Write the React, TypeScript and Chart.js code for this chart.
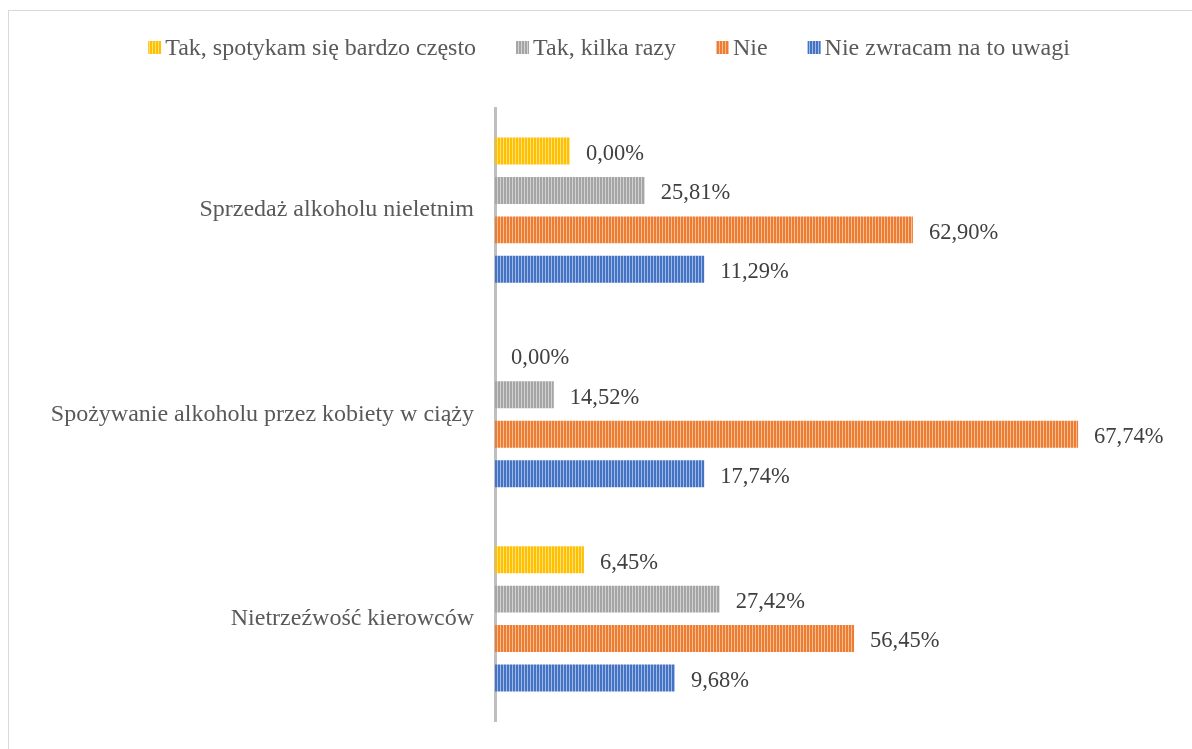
import React, { useEffect, useRef } from "react";
import { Chart, registerables } from "chart.js";

Chart.register(...registerables);

const categories = [
  "Sprzedaż alkoholu nieletnim",
  "Spożywanie alkoholu przez kobiety w ciąży",
  "Nietrzeźwość kierowców",
];
const seriesNames = [
  "Tak, spotykam się bardzo często",
  "Tak, kilka razy",
  "Nie",
  "Nie zwracam na to uwagi",
];
const seriesColors = ["#FFC000", "#A5A5A5", "#ED7D31", "#4472C4"];

// bar lengths as drawn in the picture (scale 0..100)
const barYellow = [10.7, 0, 12.7];
const barGray = [21.4, 8.4, 32.1];
const barOrange = [59.7, 83.3, 51.3];
const barBlue = [29.9, 29.9, 25.7];

// value labels as printed
const labelYellow = ["0,00%", "0,00%", "6,45%"];
const labelGray = ["25,81%", "14,52%", "27,42%"];
const labelOrange = ["62,90%", "67,74%", "56,45%"];
const labelBlue = ["11,29%", "17,74%", "9,68%"];

const xMin = 0;
const xMax = 100;

const FONT = '"Liberation Serif", "Times New Roman", serif';

function makePattern(color: string): CanvasPattern | string {
  const c = document.createElement("canvas");
  c.width = 3;
  c.height = 4;
  const g = c.getContext("2d");
  if (!g) return color;
  g.fillStyle = color;
  g.fillRect(0, 0, 3, 4);
  g.fillStyle = "rgba(255,255,255,0.5)";
  g.fillRect(2, 0, 1, 4);
  return g.createPattern(c, "repeat") || color;
}

export default function App() {
  const ref = useRef<HTMLCanvasElement | null>(null);

  useEffect(() => {
    if (!ref.current) return;
    const patterns = seriesColors.map(makePattern);
    const bars = [barYellow, barGray, barOrange, barBlue];
    const labels = [labelYellow, labelGray, labelOrange, labelBlue];

    const dataLabelPlugin = {
      id: "valueLabels",
      afterDatasetsDraw(chart: any) {
        const ctx = chart.ctx;
        ctx.save();
        ctx.font = `22.5px ${FONT}`;
        ctx.fillStyle = "#404040";
        ctx.textAlign = "left";
        ctx.textBaseline = "middle";
        chart.data.datasets.forEach((ds: any, di: number) => {
          const meta = chart.getDatasetMeta(di);
          meta.data.forEach((el: any, i: number) => {
            ctx.fillText(labels[di][i], el.x + 16, el.y + 3);
          });
        });
        ctx.restore();
      },
    };

    const legendPlugin = {
      id: "customLegend",
      afterDraw(chart: any) {
        const ctx = chart.ctx;
        ctx.save();
        ctx.font = `24px ${FONT}`;
        const box = 13;
        const gapBoxText = 4;
        const gapItems = 40;
        const widths = seriesNames.map((n) => ctx.measureText(n).width);
        const total =
          widths.reduce((a, w) => a + box + gapBoxText + w, 0) +
          gapItems * (seriesNames.length - 1);
        let x = chart.width / 2 - total / 2;
        const boxTop = 30;
        const baseline = 44;
        seriesNames.forEach((n, i) => {
          ctx.fillStyle = patterns[i];
          ctx.fillRect(x, boxTop, box, box);
          ctx.fillStyle = "#595959";
          ctx.textAlign = "left";
          ctx.textBaseline = "alphabetic";
          ctx.fillText(n, x + box + gapBoxText, baseline);
          x += box + gapBoxText + widths[i] + gapItems;
        });
        ctx.restore();
      },
    };

    const chart = new Chart(ref.current, {
      type: "bar",
      data: {
        labels: categories,
        datasets: seriesNames.map((name, i) => ({
          label: name,
          data: bars[i],
          backgroundColor: patterns[i],
          borderWidth: 0,
          categoryPercentage: 0.772,
          barPercentage: 0.684,
        })),
      },
      options: {
        indexAxis: "y",
        responsive: false,
        animation: false,
        layout: { padding: { top: 97, bottom: 36, left: 0, right: 14 } },
        plugins: {
          legend: { display: false },
          tooltip: { enabled: false },
          title: { display: false },
        },
        scales: {
          x: {
            display: false,
            min: xMin,
            max: xMax,
          },
          y: {
            grid: { display: false, drawTicks: false },
            border: { display: true, color: "#bfbfbf", width: 3 },
            ticks: {
              color: "#595959",
              font: { family: FONT, size: 24 },
              padding: 21,
            },
            afterFit(scale: any) {
              scale.width = 486;
            },
          },
        },
      },
      plugins: [dataLabelPlugin, legendPlugin],
    } as any);

    return () => chart.destroy();
  }, []);

  return (
    <div
      style={{
        position: "fixed",
        left: 8,
        top: 10,
        right: 0,
        bottom: 0,
        overflow: "hidden",
        borderTop: "1px solid #d9d9d9",
        borderLeft: "1px solid #d9d9d9",
        background: "#fff",
      }}
    >
      <canvas
        ref={ref}
        width={1200}
        height={746}
        style={{ display: "block", width: 1200, height: 746 }}
      />
    </div>
  );
}
